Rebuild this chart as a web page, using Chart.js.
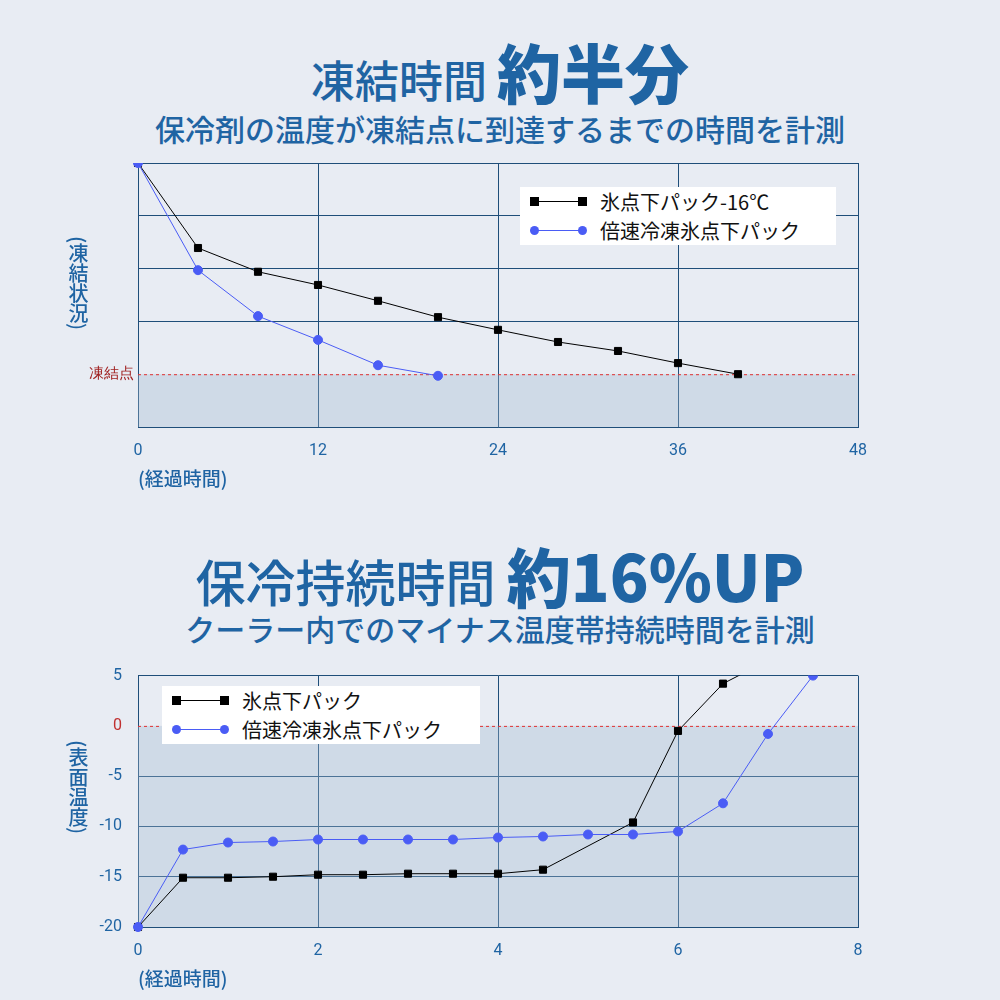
<!DOCTYPE html>
<html><head><meta charset="utf-8">
<script src="https://cdn.jsdelivr.net/npm/chart.js@4/dist/chart.umd.min.js"></script>
<style>
body{margin:0;background:#e8ecf3;font-family:"Noto Sans CJK JP","Noto Sans",sans-serif;}
#wrap{position:relative;width:1000px;height:1000px;overflow:hidden;}
.t{position:absolute;left:0;width:1000px;text-align:center;color:#1f64a3;white-space:nowrap;}
.cv{position:absolute;left:0;width:1000px;}
.vt{position:absolute;writing-mode:vertical-rl;color:#1f64a3;font-size:20px;font-weight:500;}
.xt{position:absolute;color:#1f64a3;font-size:19px;font-weight:500;}
.lg{position:absolute;background:#fff;font-size:20px;color:#111;}
.row{position:relative;height:29px;line-height:29px;padding-left:80px;}
.ln{position:absolute;left:12px;width:52px;top:14px;height:1px;}
.mk{position:absolute;top:10px;width:9px;height:9px;}
</style></head><body>
<div id="wrap">
<div class="t" style="top:24px;font-size:44px;font-weight:500;">凍結時間 <span style="font-size:64px;font-weight:900;">約半分</span></div>
<div class="t" style="top:106px;font-size:30px;font-weight:500;">保冷剤の温度が凍結点に到達するまでの時間を計測</div>
<div class="cv" style="top:150px;height:330px;"><canvas id="c1"></canvas></div>
<div class="vt" style="left:64px;top:236px;">(凍結状況)</div>
<div class="xt" style="left:138px;top:464px;">(経過時間)</div>
<div class="lg" style="left:520px;top:187px;width:316px;">
 <div class="row"><div class="ln" style="background:#000"></div><div class="mk" style="left:10px;background:#000"></div><div class="mk" style="left:58px;background:#000"></div>氷点下パック-16℃</div>
 <div class="row"><div class="ln" style="background:#4a5cf5"></div><div class="mk" style="left:10px;background:#4a5cf5;border-radius:50%"></div><div class="mk" style="left:58px;background:#4a5cf5;border-radius:50%"></div>倍速冷凍氷点下パック</div>
</div>

<div class="t" style="top:528px;font-size:50px;font-weight:500;">保冷持続時間 <span style="font-size:64px;font-weight:900;">約16%UP</span></div>
<div class="t" style="top:606px;font-size:30px;font-weight:500;">クーラー内でのマイナス温度帯持続時間を計測</div>
<div class="cv" style="top:650px;height:330px;"><canvas id="c2"></canvas></div>
<div class="vt" style="left:64px;top:740px;">(表面温度)</div>
<div class="xt" style="left:138px;top:964px;">(経過時間)</div>
<div class="lg" style="left:162px;top:686px;width:318px;">
 <div class="row"><div class="ln" style="background:#000"></div><div class="mk" style="left:10px;background:#000"></div><div class="mk" style="left:58px;background:#000"></div>氷点下パック</div>
 <div class="row"><div class="ln" style="background:#4a5cf5"></div><div class="mk" style="left:10px;background:#4a5cf5;border-radius:50%"></div><div class="mk" style="left:58px;background:#4a5cf5;border-radius:50%"></div>倍速冷凍氷点下パック</div>
</div>
</div>
<script>
// Chart 1 data
const t1Black = [0,4,8,12,16,20,24,28,32,36,40];
const v1Black = [5,3.39,2.94,2.69,2.39,2.08,1.84,1.61,1.44,1.21,1.0];
const t1Blue = [0,4,8,12,16,20];
const v1Blue = [5,2.97,2.10,1.65,1.17,0.97];
const x1Ticks = [0,12,24,36,48];
const freeze1 = 1;
// Chart 2 data
const t2Black = [0,0.5,1,1.5,2,2.5,3,3.5,4,4.5,5.5,6,6.5,7];
const v2Black = [-20,-15.1,-15.1,-15.0,-14.8,-14.8,-14.7,-14.7,-14.7,-14.3,-9.6,-0.5,4.2,6.5];
const t2Blue = [0,0.5,1,1.5,2,2.5,3,3.5,4,4.5,5,5.5,6,6.5,7,7.5];
const v2Blue = [-20,-12.3,-11.6,-11.5,-11.3,-11.3,-11.3,-11.3,-11.1,-11.0,-10.8,-10.8,-10.5,-7.7,-0.8,5];
const y2Ticks = [-20,-15,-10,-5,0,5];
const freeze2 = 0;

const BLUE='#1f64a3', GRID='#1f4e79';
const pts=(xs,ys)=>xs.map((x,i)=>({x,y:ys[i]}));
const shade = (lvl)=>({id:'shade',beforeDatasetsDraw(c){const {ctx,chartArea:a,scales:{y}}=c;const p=y.getPixelForValue(lvl);
 ctx.save();ctx.fillStyle='rgba(160,185,210,0.35)';ctx.fillRect(a.left,p,a.right-a.left,a.bottom-p);
 ctx.strokeStyle='#e03030';ctx.lineWidth=1;ctx.setLineDash([3,3]);ctx.beginPath();ctx.moveTo(a.left,p+0.5);ctx.lineTo(a.right,p+0.5);ctx.stroke();ctx.restore();}});
function ds(data,color,style){return {data,borderColor:color,backgroundColor:color,borderWidth:1,pointStyle:style,pointRadius:style==='rect'?5:4.5,tension:0,clip:{left:5,right:5,top:0,bottom:5}};}
function mk(id,datasets,xo,yo,lvl,padTop){
 return new Chart(document.getElementById(id),{type:'scatter',data:{datasets},
 options:{responsive:false,animation:false,showLine:true,
  layout:{padding:{left:0,right:142,top:padTop,bottom:0}},
  plugins:{legend:{display:false},tooltip:{enabled:false}},
  scales:{x:Object.assign({type:'linear',border:{color:GRID},grid:{color:GRID,drawTicks:false},
     ticks:{color:BLUE,font:{size:16,family:'Roboto'},padding:14},afterFit(s){s.height=53;}},xo),
   y:Object.assign({type:'linear',border:{color:GRID},grid:{drawTicks:false,color:ctx=>ctx.tick&&ctx.tick.value===lvl?'rgba(0,0,0,0)':GRID},
     afterFit(s){s.width=138;}},yo)}},
 plugins:[shade(lvl)]});
}
for(const id of ['c1','c2']){const c=document.getElementById(id);c.width=1000;c.height=330;}
mk('c1',[ds(pts(t1Blue,v1Blue),'#4a5cf5','circle'),ds(pts(t1Black,v1Black),'#000','rect')],
 {min:0,max:48,afterBuildTicks(s){s.ticks=x1Ticks.map(v=>({value:v}));}},
 {min:0,max:5,afterBuildTicks(s){s.ticks=[0,1,2,3,4,5].map(v=>({value:v}));},
  ticks:{padding:4,color:'#a02020',font:{size:15},callback:v=>v===freeze1?'凍結点':''}},freeze1,13);
mk('c2',[ds(pts(t2Blue,v2Blue),'#4a5cf5','circle'),ds(pts(t2Black,v2Black),'#000','rect')],
 {min:0,max:8,afterBuildTicks(s){s.ticks=[0,2,4,6,8].map(v=>({value:v}));}},
 {min:-20,max:5,afterBuildTicks(s){s.ticks=y2Ticks.map(v=>({value:v}));},
  ticks:{padding:16,color:ctx=>ctx.tick.value===freeze2?'#c03030':BLUE,font:{size:16,family:'Roboto'}}},freeze2,1);
</script>
</body></html>
